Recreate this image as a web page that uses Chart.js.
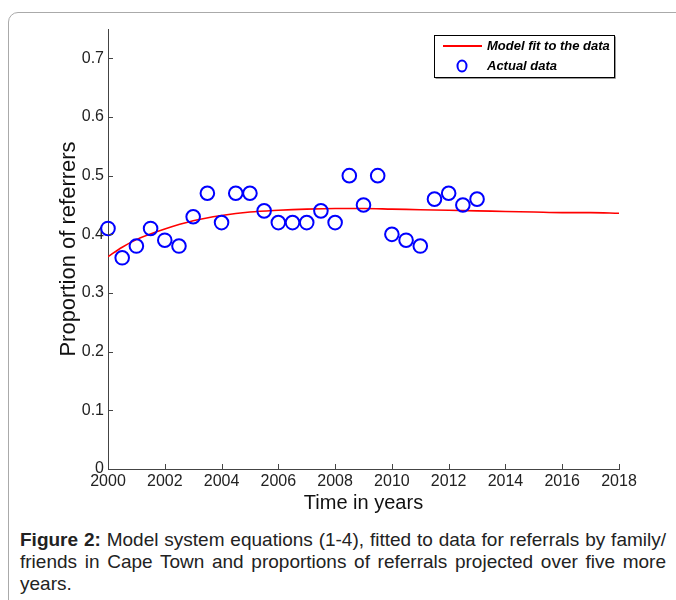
<!DOCTYPE html>
<html>
<head>
<meta charset="utf-8">
<script src="https://cdn.jsdelivr.net/npm/chart.js@4"></script>
<style>
  body { margin: 0; background: #fff; width: 676px; height: 600px; overflow: hidden; position: relative; }
  #frame { position: absolute; left: 8px; top: 12px; width: 720px; height: 700px; border: 1.5px solid #aaa; border-radius: 10px; }
  #wrap { position: absolute; left: 0; top: 0; width: 676px; height: 520px; }
  #caption { position: absolute; left: 20px; top: 529px; width: 646px; font-family: "Liberation Sans", Arial, sans-serif; font-size: 19px; line-height: 22px; text-align: justify; color: #222; }
</style>
</head>
<body>
<div id="frame"></div>
<div id="wrap"><canvas id="chart" width="676" height="520"></canvas></div>
<div id="caption"><b>Figure 2:</b> Model system equations (1-4), fitted to data for referrals by family/ friends in Cape Town and proportions of referrals projected over five more years.</div>
<script>
// model curve
var fitYears = [2000, 2000.5, 2001, 2002, 2003, 2004, 2005, 2006, 2007, 2008, 2009, 2010, 2011, 2012, 2013, 2014, 2015, 2016, 2017, 2018];
var fitValues = [0.362, 0.378, 0.391, 0.409, 0.423, 0.432, 0.438, 0.441, 0.443, 0.444, 0.444, 0.443, 0.442, 0.441, 0.440, 0.439, 0.438, 0.437, 0.437, 0.436];

// observed proportions, every half year
var dataYears = [2000, 2000.5, 2001, 2001.5, 2002, 2002.5, 2003, 2003.5, 2004, 2004.5, 2005, 2005.5, 2006, 2006.5,
  2007, 2007.5, 2008, 2008.5, 2009, 2009.5, 2010, 2010.5, 2011, 2011.5, 2012, 2012.5, 2013];
var dataValues = [0.41, 0.36, 0.38, 0.41, 0.39, 0.38, 0.43, 0.47, 0.42, 0.47, 0.47, 0.44, 0.42, 0.42,
  0.42, 0.44, 0.42, 0.50, 0.45, 0.50, 0.40, 0.39, 0.38, 0.46, 0.47, 0.45, 0.46];

var legendLabels = ["Model fit to the data", "Actual data"];

var tickFont = { family: "'Liberation Sans', Arial, sans-serif", size: 16 };
var axisColor = "#444";

// MATLAB style inward ticks + boxed legend
var matlabBits = {
  id: "matlabBits",
  afterDraw: function(chart) {
    var ctx = chart.ctx, xs = chart.scales.x, ys = chart.scales.y;
    var area = chart.chartArea;
    ctx.save();
    ctx.strokeStyle = axisColor;
    ctx.lineWidth = 1;
    ctx.beginPath();
    xs.ticks.forEach(function(t) {
      var px = Math.round(xs.getPixelForValue(t.value)) + 0.5;
      ctx.moveTo(px, area.bottom);
      ctx.lineTo(px, area.bottom - 5);
    });
    ys.ticks.forEach(function(t) {
      var py = Math.round(ys.getPixelForValue(t.value)) + 0.5;
      ctx.moveTo(area.left, py);
      ctx.lineTo(area.left + 5, py);
    });
    ctx.stroke();

    // legend box
    var bx = 434.5, by = 35.5, bw = 180, bh = 42;
    ctx.fillStyle = "#fff";
    ctx.fillRect(bx, by, bw, bh);
    ctx.strokeStyle = "#999";
    ctx.beginPath();
    ctx.moveTo(bx + 1, by + bh + 1); ctx.lineTo(bx + bw + 1, by + bh + 1); ctx.lineTo(bx + bw + 1, by + 1);
    ctx.stroke();
    ctx.strokeStyle = "#000";
    ctx.strokeRect(bx, by, bw, bh);

    ctx.strokeStyle = "#ff0000";
    ctx.lineWidth = 2;
    ctx.beginPath();
    ctx.moveTo(443, 46); ctx.lineTo(482, 46);
    ctx.stroke();
    ctx.strokeStyle = "#0000ff";
    ctx.beginPath();
    ctx.ellipse(462, 66, 4.5, 5.5, 0, 0, Math.PI * 2);
    ctx.stroke();

    ctx.fillStyle = "#000";
    ctx.font = "italic bold 13px 'Liberation Sans', Arial, sans-serif";
    ctx.textBaseline = "middle";
    ctx.fillText(legendLabels[0], 487, 46);
    ctx.fillText(legendLabels[1], 487, 66);
    ctx.restore();
  }
};

new Chart("chart", {
  type: "scatter",
  data: {
    datasets: [{
      type: "line",
      label: legendLabels[0],
      data: fitYears.map(function(x, i) { return { x: x, y: fitValues[i] }; }),
      borderColor: "#ff0000",
      borderWidth: 1.6,
      pointRadius: 0,
      tension: 0.4,
      cubicInterpolationMode: "monotone",
      fill: false,
      order: 2
    }, {
      label: legendLabels[1],
      data: dataYears.map(function(x, i) { return { x: x, y: dataValues[i] }; }),
      borderColor: "#0000ff",
      backgroundColor: "rgba(0,0,0,0)",
      borderWidth: 2,
      pointRadius: 6.8,
      clip: false,
      order: 1
    }]
  },
  options: {
    responsive: false,
    animation: false,
    layout: { padding: { left: 0, right: 57, top: 29, bottom: 0 } },
    plugins: { legend: { display: false }, tooltip: { enabled: false } },
    scales: {
      x: {
        type: "linear",
        min: 2000, max: 2018,
        afterFit: function(s) { s.height = 51; },
        ticks: { stepSize: 2, padding: 3, color: "#222", font: tickFont, maxRotation: 0,
          callback: function(v) { return String(v); } },
        grid: { display: true, drawOnChartArea: false, drawTicks: false },
        border: { color: axisColor, width: 1 },
        title: { display: true, text: "Time in years", color: "#111",
          font: { family: "'Liberation Sans', Arial, sans-serif", size: 20 }, padding: { top: 0, bottom: 5 } }
      },
      y: {
        min: 0, max: 0.75,
        afterFit: function(s) { s.width = 108; },
        afterBuildTicks: function(s) {
          s.ticks = s.ticks.filter(function(t) { return Math.abs(t.value * 10 - Math.round(t.value * 10)) < 1e-6; });
        },
        ticks: { stepSize: 0.1, padding: 4, color: "#222", font: tickFont,
          callback: function(v) { return v === 0 ? "0" : v.toFixed(1); } },
        grid: { display: true, drawOnChartArea: false, drawTicks: false },
        border: { color: axisColor, width: 1 },
        title: { display: true, text: "Proportion of referrers", color: "#111",
          font: { family: "'Liberation Sans', Arial, sans-serif", size: 22 }, padding: { top: 56, bottom: 0 } }
      }
    }
  },
  plugins: [matlabBits]
});
</script>
</body>
</html>
